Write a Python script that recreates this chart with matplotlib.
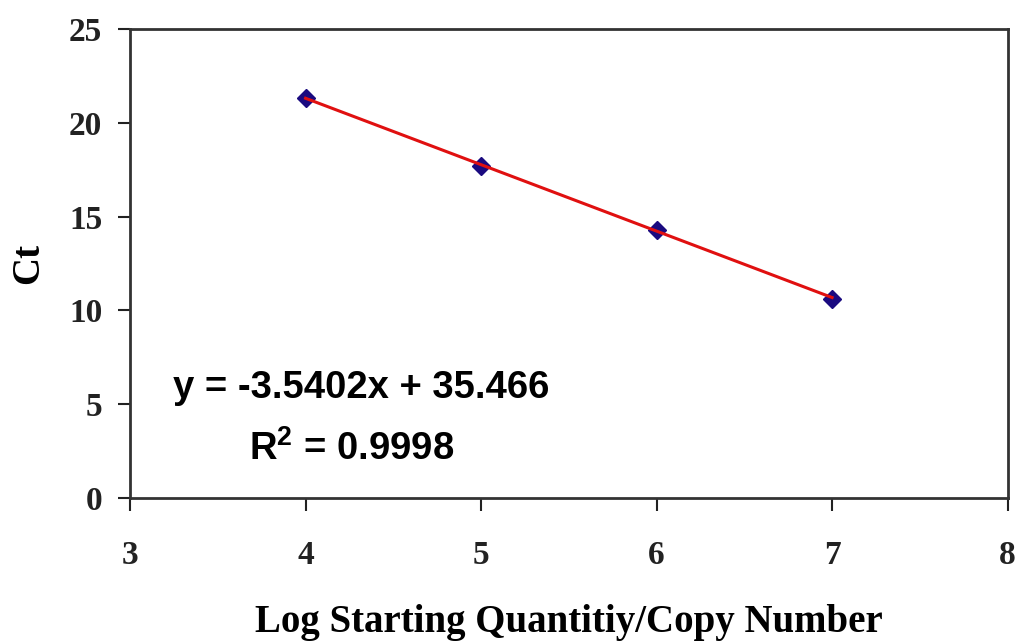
import numpy as np
import matplotlib.pyplot as plt

plt.rcParams['mathtext.fontset'] = 'custom'
plt.rcParams['mathtext.rm'] = 'Liberation Sans:bold'
plt.rcParams['mathtext.it'] = 'Liberation Sans:bold'
plt.rcParams['mathtext.bf'] = 'Liberation Sans:bold'

# standard curve: log copy number vs threshold cycle
log_qty = [4, 5, 6, 7]
ct = [21.3, 17.7, 14.3, 10.6]
x_ticks = [3, 4, 5, 6, 7, 8]
y_ticks = [0, 5, 10, 15, 20, 25]

slope, intercept = -3.5402, 35.466
r2 = 0.9998

fig = plt.figure(figsize=(10.24, 6.43), dpi=100)
ax = fig.add_axes([0.127, 0.2255, 0.857, 0.7295])

xs = np.array([log_qty[0], log_qty[-1]])
ax.plot(log_qty, ct, linestyle='none', marker='D', markersize=9,
        color='#1a0a80', zorder=2)
ax.plot(xs, slope * xs + intercept, color='#e01010', linewidth=2.2, zorder=3)

ax.set_xlim(3, 8)
ax.set_ylim(0, 25)
ax.set_xticks(x_ticks)
ax.set_yticks(y_ticks)

ticks = {'family': 'Liberation Serif', 'weight': 'bold', 'size': 24}
ax.set_xticklabels([str(v) for v in x_ticks], fontdict=ticks)
ax.set_yticklabels([str(v) for v in y_ticks], fontdict=ticks)
ax.tick_params(direction='out', length=9, width=1.5, colors='#222222')
ax.tick_params(axis='x', pad=21)
ax.tick_params(axis='y', pad=11)
for s in ax.spines.values():
    s.set_linewidth(2)
    s.set_color('#333333')

labels = {'family': 'Liberation Serif', 'weight': 'bold', 'size': 28}
ax.set_xlabel('Log Starting Quantitiy/Copy Number', fontdict=labels)
ax.set_ylabel('Ct', fontdict=labels)
ax.xaxis.set_label_coords(0.5, -0.225)
ax.yaxis.set_label_coords(-0.094, 0.5)

eq = {'family': 'Liberation Sans', 'weight': 'bold', 'size': 27.5}
ax.text(3.245, 5.33, f'y = {slope}x + {intercept}', fontdict=eq,
        ha='left', va='baseline')
ax.text(4.264, 2.03, f'R$^{{2}}$ = {r2}', fontdict=eq,
        ha='center', va='baseline')

fig.savefig('out.png', dpi=100, facecolor='white')
